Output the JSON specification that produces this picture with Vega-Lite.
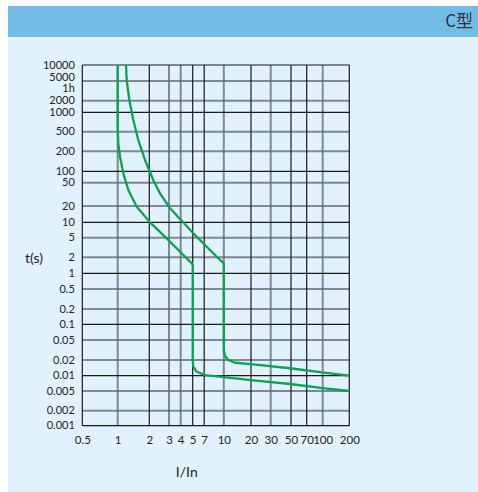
{
  "$schema": "https://vega.github.io/schema/vega-lite/v6.json",
  "background": "white",
  "padding": {"left": 8, "top": 6, "right": 0, "bottom": 0},
  "spacing": 0,
  "config": {"font": "Lato", "view": {"stroke": null}, "concat": {"spacing": 0}, "axis": {"labelFont": "Lato", "titleFont": "Lato"}},
  "datasets": {
    "vgray": [{"v": 1}, {"v": 3}, {"v": 4}, {"v": 10}, {"v": 30}, {"v": 100}],
    "vdark": [{"v": 0.5}, {"v": 2}, {"v": 5}, {"v": 7}, {"v": 20}, {"v": 50}, {"v": 70}, {"v": 200}],
    "hgray": [{"v": 0.002}, {"v": 0.005}, {"v": 0.02}, {"v": 0.05}, {"v": 0.2}, {"v": 0.5}, {"v": 2}, {"v": 5}, {"v": 20}, {"v": 50}, {"v": 200}, {"v": 500}, {"v": 2000}, {"v": 5000}],
    "hdark": [{"v": 0.001}, {"v": 0.01}, {"v": 0.1}, {"v": 1}, {"v": 10}, {"v": 100}, {"v": 1000}, {"v": 10000}],
    "curves": [
      {"curve": "A", "i": 0, "x": 1.0, "y": 10000},
      {"curve": "A", "i": 1, "x": 1.0, "y": 598},
      {"curve": "A", "i": 2, "x": 1.013, "y": 291},
      {"curve": "A", "i": 3, "x": 1.052, "y": 166},
      {"curve": "A", "i": 4, "x": 1.131, "y": 88.6},
      {"curve": "A", "i": 5, "x": 1.262, "y": 37.5},
      {"curve": "A", "i": 6, "x": 1.517, "y": 19.4},
      {"curve": "A", "i": 7, "x": 2.03, "y": 10},
      {"curve": "A", "i": 8, "x": 2.86, "y": 4.86},
      {"curve": "A", "i": 9, "x": 4.07, "y": 2.41},
      {"curve": "A", "i": 10, "x": 4.91, "y": 1.54},
      {"curve": "A", "i": 11, "x": 5, "y": 1.43},
      {"curve": "A", "i": 12, "x": 5, "y": 0.0186},
      {"curve": "A", "i": 13, "x": 5.09, "y": 0.0149},
      {"curve": "A", "i": 14, "x": 5.62, "y": 0.0119},
      {"curve": "A", "i": 15, "x": 7.1, "y": 0.0103},
      {"curve": "A", "i": 16, "x": 10, "y": 0.00939},
      {"curve": "A", "i": 17, "x": 20, "y": 0.00819},
      {"curve": "A", "i": 18, "x": 48.8, "y": 0.00687},
      {"curve": "A", "i": 19, "x": 100, "y": 0.00571},
      {"curve": "A", "i": 20, "x": 200, "y": 0.005},
      {"curve": "B", "i": 0, "x": 1.2, "y": 10000},
      {"curve": "B", "i": 1, "x": 1.218, "y": 5224},
      {"curve": "B", "i": 2, "x": 1.29, "y": 2067},
      {"curve": "B", "i": 3, "x": 1.408, "y": 759},
      {"curve": "B", "i": 4, "x": 1.571, "y": 339},
      {"curve": "B", "i": 5, "x": 1.82, "y": 148},
      {"curve": "B", "i": 6, "x": 2.17, "y": 58.9},
      {"curve": "B", "i": 7, "x": 2.49, "y": 33.0},
      {"curve": "B", "i": 8, "x": 3.07, "y": 18.35},
      {"curve": "B", "i": 9, "x": 3.93, "y": 11.5},
      {"curve": "B", "i": 10, "x": 5.09, "y": 6.09},
      {"curve": "B", "i": 11, "x": 7.78, "y": 2.81},
      {"curve": "B", "i": 12, "x": 8.52, "y": 2.23},
      {"curve": "B", "i": 13, "x": 10, "y": 1.54},
      {"curve": "B", "i": 14, "x": 10, "y": 0.0316},
      {"curve": "B", "i": 15, "x": 10.3, "y": 0.024},
      {"curve": "B", "i": 16, "x": 11.2, "y": 0.02},
      {"curve": "B", "i": 17, "x": 13.3, "y": 0.0177},
      {"curve": "B", "i": 18, "x": 20, "y": 0.0166},
      {"curve": "B", "i": 19, "x": 48.8, "y": 0.0139},
      {"curve": "B", "i": 20, "x": 103, "y": 0.0114},
      {"curve": "B", "i": 21, "x": 200, "y": 0.01}
    ]
  },
  "vconcat": [
    {
      "width": 470,
      "height": 31,
      "view": {"fill": "#72bce8", "stroke": null},
      "data": {"values": [{"label": "C型"}]},
      "mark": {"type": "text", "align": "right", "baseline": "middle", "dx": -5, "font": "Noto Sans CJK SC", "fontSize": 17, "color": "#333333"},
      "encoding": {
        "x": {"datum": 1, "type": "quantitative", "scale": {"domain": [0, 1], "nice": false, "zero": false}, "axis": null},
        "text": {"field": "label"}
      }
    },
    {
      "width": 470,
      "height": 455,
      "view": {"fill": "#e1f2fc", "stroke": null},
      "layer": [
        {
          "data": {"name": "vgray"},
          "mark": {"type": "rule", "color": "#5d6670", "strokeWidth": 2, "opacity": 0.75},
          "encoding": {
            "x": {"field": "v", "type": "quantitative",
              "scale": {"type": "log", "nice": false, "domain": [0.5, 1, 2, 3, 4, 5, 7, 10, 20, 30, 50, 70, 100, 200], "range": [74.3, 109.7, 141.3, 161, 172.7, 184.7, 196.2, 215.8, 243, 262.7, 283, 298.7, 314.7, 341.3]},
              "axis": {"values": [0.5, 1, 2, 3, 4, 5, 7, 10, 20, 30, 50, 70, 100, 200], "offset": -66.3, "domain": false, "ticks": false, "tickSize": 0, "grid": false, "labelPadding": 9, "labelFontSize": 11.5, "labelColor": "#222222", "labelOverlap": false, "labelFlush": false, "labelBound": false, "labelExpr": "'' + datum.value", "title": "I/In", "titleX": 178.3, "titleY": 46.3, "titleAlign": "center", "titleBaseline": "middle", "titleFontSize": 14, "titleFontWeight": "normal", "titleColor": "#222222"}},
            "y": {"datum": 0.001, "type": "quantitative",
              "scale": {"type": "log", "nice": false, "domain": [0.001, 0.002, 0.005, 0.01, 0.02, 0.05, 0.1, 0.2, 0.5, 1, 2, 5, 10, 20, 50, 100, 200, 500, 1000, 2000, 5000, 10000], "range": [388.7, 373.7, 354, 338.7, 323, 303, 287.3, 272, 252, 236.3, 220.3, 200.7, 185.3, 169, 145.7, 134.3, 114.3, 94.7, 75.3, 63.7, 44, 28]},
              "axis": {"values": [0.001, 0.002, 0.005, 0.01, 0.02, 0.05, 0.1, 0.2, 0.5, 1, 2, 5, 10, 20, 50, 100, 200, 500, 1000, 2000, 3600, 5000, 10000], "offset": -74.3, "domain": false, "ticks": false, "tickSize": 0, "grid": false, "labelPadding": 8, "labelFontSize": 11, "labelColor": "#222222", "labelOverlap": false, "labelFlush": false, "labelBound": false, "labelOffset": {"condition": {"test": "datum.value == 5000", "value": -4}, "value": 0}, "labelExpr": "datum.value == 3600 ? '1h' : '' + datum.value", "title": "t(s)", "titleX": -48.8, "titleY": 221, "titleAngle": 0, "titleAlign": "center", "titleBaseline": "middle", "titleFontSize": 14, "titleFontWeight": "normal", "titleColor": "#222222"}},
            "y2": {"datum": 10000}
          }
        },
        {
          "data": {"name": "hgray"},
          "mark": {"type": "rule", "color": "#5d6670", "strokeWidth": 2, "opacity": 0.75},
          "encoding": {
            "y": {"field": "v", "type": "quantitative",
              "axis": {"values": [0.001, 0.002, 0.005, 0.01, 0.02, 0.05, 0.1, 0.2, 0.5, 1, 2, 5, 10, 20, 50, 100, 200, 500, 1000, 2000, 3600, 5000, 10000], "offset": -74.3, "domain": false, "ticks": false, "tickSize": 0, "grid": false, "labelPadding": 8, "labelFontSize": 11, "labelColor": "#222222", "labelOverlap": false, "labelFlush": false, "labelBound": false, "labelOffset": {"condition": {"test": "datum.value == 5000", "value": -4}, "value": 0}, "labelExpr": "datum.value == 3600 ? '1h' : '' + datum.value", "title": "t(s)", "titleX": -48.8, "titleY": 221, "titleAngle": 0, "titleAlign": "center", "titleBaseline": "middle", "titleFontSize": 14, "titleFontWeight": "normal", "titleColor": "#222222"}},
            "x": {"datum": 0.5, "type": "quantitative",
              "axis": {"values": [0.5, 1, 2, 3, 4, 5, 7, 10, 20, 30, 50, 70, 100, 200], "offset": -66.3, "domain": false, "ticks": false, "tickSize": 0, "grid": false, "labelPadding": 9, "labelFontSize": 11.5, "labelColor": "#222222", "labelOverlap": false, "labelFlush": false, "labelBound": false, "labelExpr": "'' + datum.value", "title": "I/In", "titleX": 178.3, "titleY": 46.3, "titleAlign": "center", "titleBaseline": "middle", "titleFontSize": 14, "titleFontWeight": "normal", "titleColor": "#222222"}},
            "x2": {"datum": 200}
          }
        },
        {
          "data": {"name": "vdark"},
          "mark": {"type": "rule", "color": "#1a1a1a", "strokeWidth": 1.2},
          "encoding": {
            "x": {"field": "v", "type": "quantitative",
              "axis": {"values": [0.5, 1, 2, 3, 4, 5, 7, 10, 20, 30, 50, 70, 100, 200], "offset": -66.3, "domain": false, "ticks": false, "tickSize": 0, "grid": false, "labelPadding": 9, "labelFontSize": 11.5, "labelColor": "#222222", "labelOverlap": false, "labelFlush": false, "labelBound": false, "labelExpr": "'' + datum.value", "title": "I/In", "titleX": 178.3, "titleY": 46.3, "titleAlign": "center", "titleBaseline": "middle", "titleFontSize": 14, "titleFontWeight": "normal", "titleColor": "#222222"}},
            "y": {"datum": 0.001, "type": "quantitative",
              "axis": {"values": [0.001, 0.002, 0.005, 0.01, 0.02, 0.05, 0.1, 0.2, 0.5, 1, 2, 5, 10, 20, 50, 100, 200, 500, 1000, 2000, 3600, 5000, 10000], "offset": -74.3, "domain": false, "ticks": false, "tickSize": 0, "grid": false, "labelPadding": 8, "labelFontSize": 11, "labelColor": "#222222", "labelOverlap": false, "labelFlush": false, "labelBound": false, "labelOffset": {"condition": {"test": "datum.value == 5000", "value": -4}, "value": 0}, "labelExpr": "datum.value == 3600 ? '1h' : '' + datum.value", "title": "t(s)", "titleX": -48.8, "titleY": 221, "titleAngle": 0, "titleAlign": "center", "titleBaseline": "middle", "titleFontSize": 14, "titleFontWeight": "normal", "titleColor": "#222222"}},
            "y2": {"datum": 10000}
          }
        },
        {
          "data": {"name": "hdark"},
          "mark": {"type": "rule", "color": "#1a1a1a", "strokeWidth": 1.2},
          "encoding": {
            "y": {"field": "v", "type": "quantitative",
              "axis": {"values": [0.001, 0.002, 0.005, 0.01, 0.02, 0.05, 0.1, 0.2, 0.5, 1, 2, 5, 10, 20, 50, 100, 200, 500, 1000, 2000, 3600, 5000, 10000], "offset": -74.3, "domain": false, "ticks": false, "tickSize": 0, "grid": false, "labelPadding": 8, "labelFontSize": 11, "labelColor": "#222222", "labelOverlap": false, "labelFlush": false, "labelBound": false, "labelOffset": {"condition": {"test": "datum.value == 5000", "value": -4}, "value": 0}, "labelExpr": "datum.value == 3600 ? '1h' : '' + datum.value", "title": "t(s)", "titleX": -48.8, "titleY": 221, "titleAngle": 0, "titleAlign": "center", "titleBaseline": "middle", "titleFontSize": 14, "titleFontWeight": "normal", "titleColor": "#222222"}},
            "x": {"datum": 0.5, "type": "quantitative",
              "axis": {"values": [0.5, 1, 2, 3, 4, 5, 7, 10, 20, 30, 50, 70, 100, 200], "offset": -66.3, "domain": false, "ticks": false, "tickSize": 0, "grid": false, "labelPadding": 9, "labelFontSize": 11.5, "labelColor": "#222222", "labelOverlap": false, "labelFlush": false, "labelBound": false, "labelExpr": "'' + datum.value", "title": "I/In", "titleX": 178.3, "titleY": 46.3, "titleAlign": "center", "titleBaseline": "middle", "titleFontSize": 14, "titleFontWeight": "normal", "titleColor": "#222222"}},
            "x2": {"datum": 200}
          }
        },
        {
          "data": {"name": "curves"},
          "mark": {"type": "line", "color": "#0aa352", "strokeWidth": 2.3, "strokeJoin": "round"},
          "encoding": {
            "x": {"field": "x", "type": "quantitative",
              "axis": {"values": [0.5, 1, 2, 3, 4, 5, 7, 10, 20, 30, 50, 70, 100, 200], "offset": -66.3, "domain": false, "ticks": false, "tickSize": 0, "grid": false, "labelPadding": 9, "labelFontSize": 11.5, "labelColor": "#222222", "labelOverlap": false, "labelFlush": false, "labelBound": false, "labelExpr": "'' + datum.value", "title": "I/In", "titleX": 178.3, "titleY": 46.3, "titleAlign": "center", "titleBaseline": "middle", "titleFontSize": 14, "titleFontWeight": "normal", "titleColor": "#222222"}},
            "y": {"field": "y", "type": "quantitative",
              "axis": {"values": [0.001, 0.002, 0.005, 0.01, 0.02, 0.05, 0.1, 0.2, 0.5, 1, 2, 5, 10, 20, 50, 100, 200, 500, 1000, 2000, 3600, 5000, 10000], "offset": -74.3, "domain": false, "ticks": false, "tickSize": 0, "grid": false, "labelPadding": 8, "labelFontSize": 11, "labelColor": "#222222", "labelOverlap": false, "labelFlush": false, "labelBound": false, "labelOffset": {"condition": {"test": "datum.value == 5000", "value": -4}, "value": 0}, "labelExpr": "datum.value == 3600 ? '1h' : '' + datum.value", "title": "t(s)", "titleX": -48.8, "titleY": 221, "titleAngle": 0, "titleAlign": "center", "titleBaseline": "middle", "titleFontSize": 14, "titleFontWeight": "normal", "titleColor": "#222222"}},
            "detail": {"field": "curve"},
            "order": {"field": "i"}
          }
        }
      ]
    }
  ]
}
